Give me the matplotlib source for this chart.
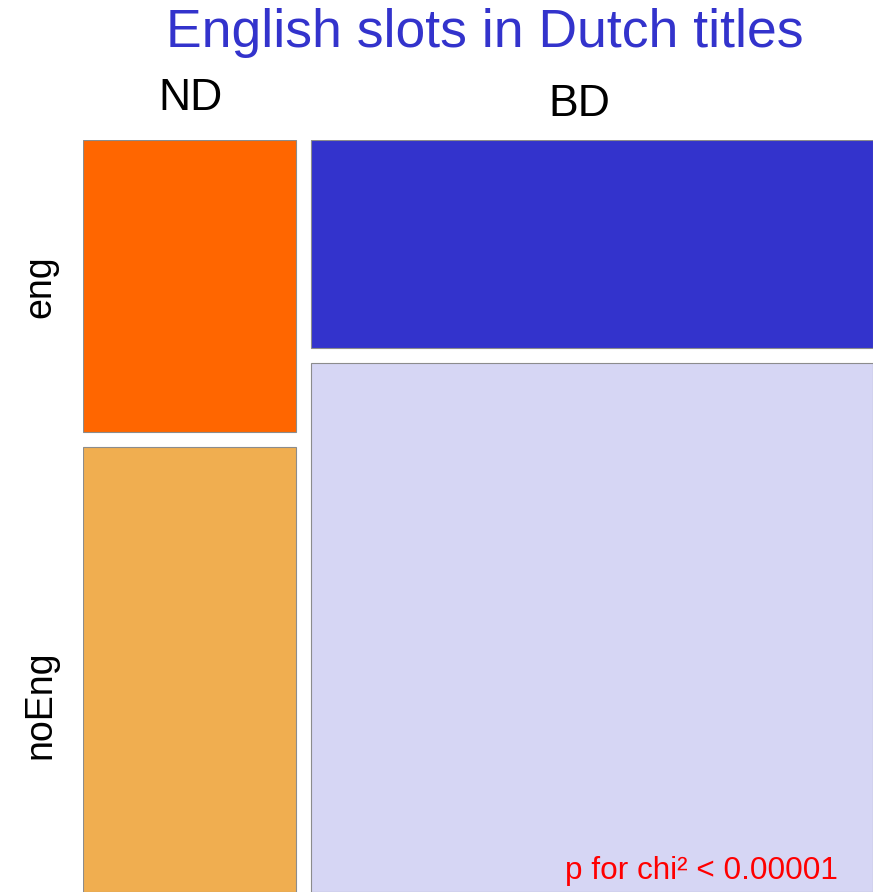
import matplotlib.pyplot as plt

# mosaic data: counts per column (ND / BD) split by row (eng / noEng)
cols = ['ND', 'BD']
rows = ['eng', 'noEng']
nd_counts = [109, 166]
bd_counts = [205, 520]
colors = {'ND': ['#FF6600', '#F0AE50'], 'BD': ['#3333CC', '#D6D6F4']}

W, H = 873, 892
fig = plt.figure(figsize=(W / 100, H / 100), dpi=100)
plt.rcParams['font.family'] = ['Liberation Sans', 'DejaVu Sans']

# axes covers the mosaic area (px 83..873 horizontally, 140..892 vertically)
ax = fig.add_axes([83 / W, 0, 1 - 83 / W, (H - 140) / H])
gap_x = 15 / 790
gap_y = 15 / 752

counts = {'ND': nd_counts, 'BD': bd_counts}
grand = sum(nd_counts) + sum(bd_counts)
x0 = 0.0
for c in cols:
    col = counts[c]
    w = (1 - gap_x) * sum(col) / grand
    y0 = 0.0
    for i, r in enumerate(rows):
        h = (1 - gap_y) * col[i] / sum(col)
        ax.bar(x0, h, width=w, bottom=y0, align='edge',
               color=colors[c][i], edgecolor='#8c8c8c', linewidth=0.8)
        y0 += h + gap_y
    x0 += w + gap_x

ax.set_xlim(0, 1)
ax.set_ylim(1, 0)
ax.axis('off')

def px(x, y):
    return x / W, 1 - y / H

fig.text(*px(485, 33), 'English slots in Dutch titles', color='#3333CC',
         fontsize=38.5, ha='center', va='center')
fig.text(*px(190, 98), 'ND', fontsize=32, ha='center', va='center')
fig.text(*px(579, 104), 'BD', fontsize=32, ha='center', va='center')
fig.text(*px(40, 287), 'eng', fontsize=27, rotation=90, ha='center', va='center')
fig.text(*px(40, 705), 'noEng', fontsize=27, rotation=90, ha='center', va='center')
fig.text(*px(838, 871), 'p for chi² < 0.00001', color='#FF0000',
         fontsize=22.7, ha='right', va='center')

fig.savefig('out.png', dpi=100)
